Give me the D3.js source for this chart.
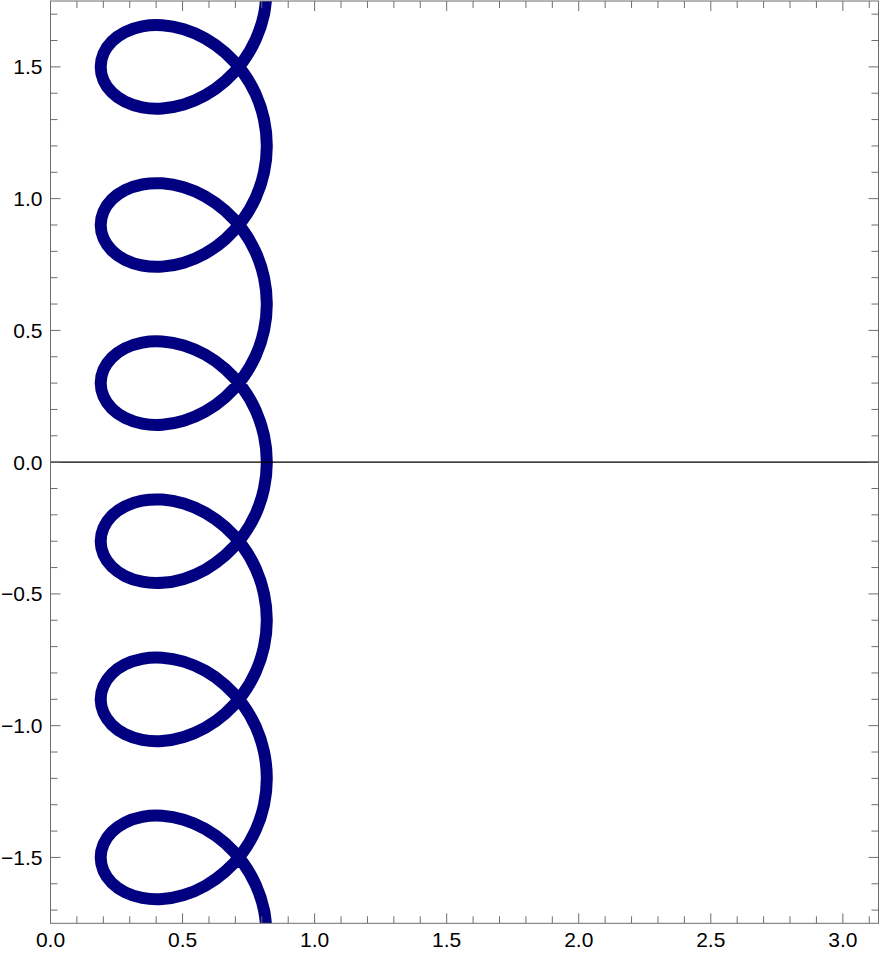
<!DOCTYPE html>
<html><head><meta charset="utf-8">
<script src="https://cdn.jsdelivr.net/npm/d3@7/dist/d3.min.js"></script>
<style>html,body{margin:0;padding:0;background:#fff;} svg{display:block;}</style>
</head><body><div id="chart"></div>
<script>
// ---- data ----
const xDomain = [0, 3.135];
const yDomain = [-1.75, 1.75];
const xMajorTicks = [0, 0.5, 1, 1.5, 2, 2.5, 3];
const xTickLabels = ["0.0", "0.5", "1.0", "1.5", "2.0", "2.5", "3.0"];
const yMajorTicks = [-1.5, -1, -0.5, 0, 0.5, 1, 1.5];
const yTickLabels = ["\u22121.5", "\u22121.0", "\u22120.5", "0.0", "0.5", "1.0", "1.5"];
const xMinorTicks = [0.1,0.2,0.3,0.4,0.6,0.7,0.8,0.9,1.1,1.2,1.3,1.4,1.6,1.7,1.8,1.9,2.1,2.2,2.3,2.4,2.6,2.7,2.8,2.9,3.1];
const yMinorTicks = [-1.7,-1.6,-1.4,-1.3,-1.2,-1.1,-0.9,-0.8,-0.7,-0.6,-0.4,-0.3,-0.2,-0.1,0.1,0.2,0.3,0.4,0.6,0.7,0.8,0.9,1.1,1.2,1.3,1.4,1.6,1.7];

const curveX = [
0.819,0.8083,0.7769,0.7269,0.6618,0.5859,0.5045,0.4231,0.3472,0.2821,0.2321,0.2007,0.19,0.2007,0.2321,0.2821,0.3472,0.4231,0.5045,0.5859,0.6618,0.7269,0.7769,0.8083,
0.819,0.8083,0.7769,0.7269,0.6618,0.5859,0.5045,0.4231,0.3472,0.2821,0.2321,0.2007,0.19,0.2007,0.2321,0.2821,0.3472,0.4231,0.5045,0.5859,0.6618,0.7269,0.7769,0.8083,
0.819,0.8083,0.7769,0.7269,0.6618,0.5859,0.5045,0.4231,0.3472,0.2821,0.2321,0.2007,0.19,0.2007,0.2321,0.2821,0.3472,0.4231,0.5045,0.5859,0.6618,0.7269,0.7769,0.8083,
0.819,0.8083,0.7769,0.7269,0.6618,0.5859,0.5045,0.4231,0.3472,0.2821,0.2321,0.2007,0.19,0.2007,0.2321,0.2821,0.3472,0.4231,0.5045,0.5859,0.6618,0.7269,0.7769,0.8083,
0.819,0.8083,0.7769,0.7269,0.6618,0.5859,0.5045,0.4231,0.3472,0.2821,0.2321,0.2007,0.19,0.2007,0.2321,0.2821,0.3472,0.4231,0.5045,0.5859,0.6618,0.7269,0.7769,0.8083,
0.819,0.8083,0.7769,0.7269,0.6618,0.5859,0.5045,0.4231,0.3472,0.2821,0.2321,0.2007,0.19,0.2007,0.2321,0.2821,0.3472,0.4231,0.5045,0.5859,0.6618,0.7269,0.7769,0.8083,
0.819
];
const curveY = [
-1.8,-1.6992,-1.6035,-1.5178,-1.4463,-1.392,-1.357,-1.342,-1.3463,-1.3678,-1.4035,-1.4492,-1.5,-1.5508,-1.5965,-1.6322,-1.6537,-1.658,-1.643,-1.608,-1.5537,-1.4822,-1.3965,-1.3008,
-1.2,-1.0992,-1.0035,-0.9178,-0.8463,-0.792,-0.757,-0.742,-0.7463,-0.7678,-0.8035,-0.8492,-0.9,-0.9508,-0.9965,-1.0322,-1.0537,-1.058,-1.043,-1.008,-0.9537,-0.8822,-0.7965,-0.7008,
-0.6,-0.4992,-0.4035,-0.3178,-0.2463,-0.192,-0.157,-0.142,-0.1463,-0.1678,-0.2035,-0.2492,-0.3,-0.3508,-0.3965,-0.4322,-0.4537,-0.458,-0.443,-0.408,-0.3537,-0.2822,-0.1965,-0.1008,
0,0.1008,0.1965,0.2822,0.3537,0.408,0.443,0.458,0.4537,0.4322,0.3965,0.3508,0.3,0.2492,0.2035,0.1678,0.1463,0.142,0.157,0.192,0.2463,0.3178,0.4035,0.4992,
0.6,0.7008,0.7965,0.8822,0.9537,1.008,1.043,1.058,1.0537,1.0322,0.9965,0.9508,0.9,0.8492,0.8035,0.7678,0.7463,0.742,0.757,0.792,0.8463,0.9178,1.0035,1.0992,
1.2,1.3008,1.3965,1.4822,1.5537,1.608,1.643,1.658,1.6537,1.6322,1.5965,1.5508,1.5,1.4492,1.4035,1.3678,1.3463,1.342,1.357,1.392,1.4463,1.5178,1.6035,1.6992,
1.8
];

// ---- layout ----
const W = 883, H = 954;
const pLeft = 50.5, pRight = 878.5, pTop = 1, pBottom = 923.3;
const frameColor = "#6e6e6e";
const majorLen = 10, minorLen = 7;
const labelSize = "21px";

const x = d3.scaleLinear().domain(xDomain).range([pLeft, pRight]);
const y = d3.scaleLinear().domain(yDomain).range([pBottom, pTop]);

const svg = d3.select("#chart").append("svg")
  .attr("width", W).attr("height", H)
  .style("font-family", "'Liberation Sans', Arial, Helvetica, sans-serif");

svg.append("defs").append("clipPath").attr("id", "plotclip")
  .append("rect").attr("x", pLeft).attr("y", pTop)
  .attr("width", pRight - pLeft).attr("height", pBottom - pTop);

const pts = curveX.map((v, i) => [v, curveY[i]]);
const line = d3.line().x(d => x(d[0])).y(d => y(d[1])).curve(d3.curveCatmullRom.alpha(0.5));

svg.append("path").datum(pts)
  .attr("clip-path", "url(#plotclip)")
  .attr("d", line)
  .attr("fill", "none")
  .attr("stroke", "#000080")
  .attr("stroke-width", 12)
  .attr("stroke-linejoin", "round");

// horizontal axis at y = 0
svg.append("line")
  .attr("x1", pLeft).attr("x2", pRight)
  .attr("y1", y(0)).attr("y2", y(0))
  .attr("stroke", "#000").attr("stroke-width", 1.3);

// frame
svg.append("rect")
  .attr("x", pLeft).attr("y", pTop)
  .attr("width", pRight - pLeft).attr("height", pBottom - pTop)
  .attr("fill", "none").attr("stroke", frameColor).attr("stroke-width", 1);

const ticks = svg.append("g").attr("stroke", frameColor).attr("stroke-width", 1);
function xTick(v, len) {
  ticks.append("line").attr("x1", x(v)).attr("x2", x(v)).attr("y1", pBottom).attr("y2", pBottom - len);
  ticks.append("line").attr("x1", x(v)).attr("x2", x(v)).attr("y1", pTop).attr("y2", pTop + len);
}
function yTick(v, len) {
  ticks.append("line").attr("y1", y(v)).attr("y2", y(v)).attr("x1", pLeft).attr("x2", pLeft + len);
  ticks.append("line").attr("y1", y(v)).attr("y2", y(v)).attr("x1", pRight).attr("x2", pRight - len);
}
xMajorTicks.forEach(v => xTick(v, majorLen));
xMinorTicks.forEach(v => xTick(v, minorLen));
yMajorTicks.forEach(v => yTick(v, majorLen));
yMinorTicks.forEach(v => yTick(v, minorLen));

// labels
svg.append("g").selectAll("text").data(xMajorTicks).join("text")
  .attr("x", d => x(d)).attr("y", 947)
  .attr("text-anchor", "middle")
  .attr("font-size", labelSize).attr("fill", "#000")
  .text((d, i) => xTickLabels[i]);

svg.append("g").selectAll("text").data(yMajorTicks).join("text")
  .attr("x", 42.5).attr("y", d => y(d)).attr("dy", "0.36em")
  .attr("text-anchor", "end")
  .attr("font-size", labelSize).attr("fill", "#000")
  .text((d, i) => yTickLabels[i]);
</script>
</body></html>
